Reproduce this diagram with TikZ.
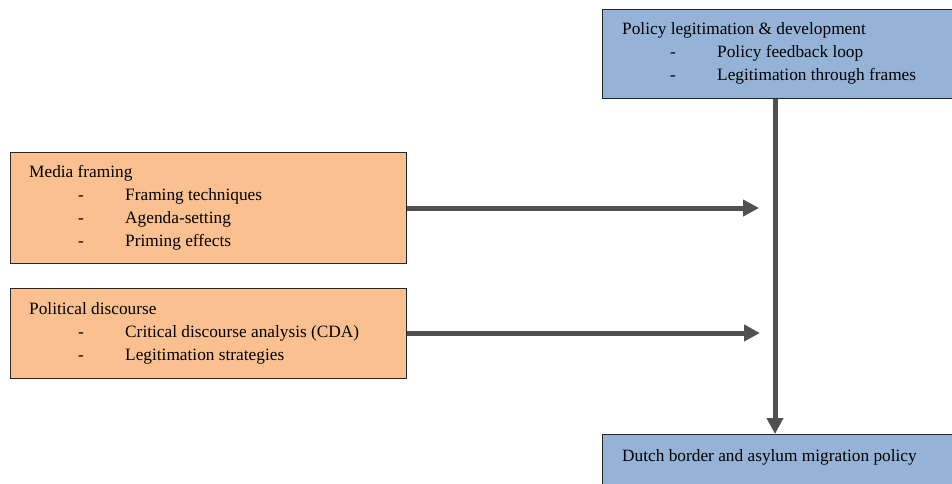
\documentclass[tikz,border=0pt]{standalone}
\usepackage{fontspec}
\setmainfont{Liberation Serif}
\usetikzlibrary{arrows.meta}
\definecolor{boxblue}{HTML}{95B3D7}
\definecolor{boxorange}{HTML}{FAC090}
\definecolor{arrowgray}{HTML}{505050}
\begin{document}
\begin{tikzpicture}[x=1pt,y=-1pt,
  box/.style={draw=black!85,line width=1pt,rectangle,inner sep=0pt,anchor=north west},
  txt/.style={anchor=base west,inner sep=0pt,font=\fontsize{17.3}{23}\selectfont},
  conn/.style={draw=arrowgray,line width=5pt,-{Triangle[length=16pt,width=16pt]}}]
\useasboundingbox (0,0) rectangle (952,483);
% boxes
\node[box,fill=boxblue,minimum width=360pt,minimum height=89pt] (pl) at (601.5,8.5) {};
\node[box,fill=boxblue,minimum width=360pt,minimum height=60pt] (dp) at (601.5,434) {};
\node[box,fill=boxorange,minimum width=396pt,minimum height=111.5pt] (mf) at (9.5,151.5) {};
\node[box,fill=boxorange,minimum width=396pt,minimum height=90pt] (pd) at (9.5,288) {};
% texts
\node[txt] (pl0) at (622,34) {Policy legitimation \& development};
\node[txt] (pl1d) at (670,57) {-};
\node[txt] (pl1) at (717,57) {Policy feedback loop};
\node[txt] (pl2d) at (670,80) {-};
\node[txt] (pl2) at (717,80) {Legitimation through frames};
\node[txt] (dp0) at (622,461) {Dutch border and asylum migration policy};
\node[txt] (mf0) at (29,177) {Media framing};
\node[txt] (mf1d) at (78,200) {-};
\node[txt] (mf1) at (125,200) {Framing techniques};
\node[txt] (mf2d) at (78,223) {-};
\node[txt] (mf2) at (125,223) {Agenda-setting};
\node[txt] (mf3d) at (78,246) {-};
\node[txt] (mf3) at (125,246) {Priming effects};
\node[txt] (pd0) at (29,314) {Political discourse};
\node[txt] (pd1d) at (78,337) {-};
\node[txt] (pd1) at (125,337) {Critical discourse analysis (CDA)};
\node[txt] (pd2d) at (78,360) {-};
\node[txt] (pd2) at (125,360) {Legitimation strategies};
% connectors
\coordinate (e1) at (759,208);
\coordinate (e2) at (760,333);
\draw[conn] (pl.south -| 775,0) -- (dp.north -| 775,0);
\draw[conn] (mf.east |- e1) -- (e1);
\draw[conn] (pd.east |- e2) -- (e2);
\end{tikzpicture}
\end{document}
